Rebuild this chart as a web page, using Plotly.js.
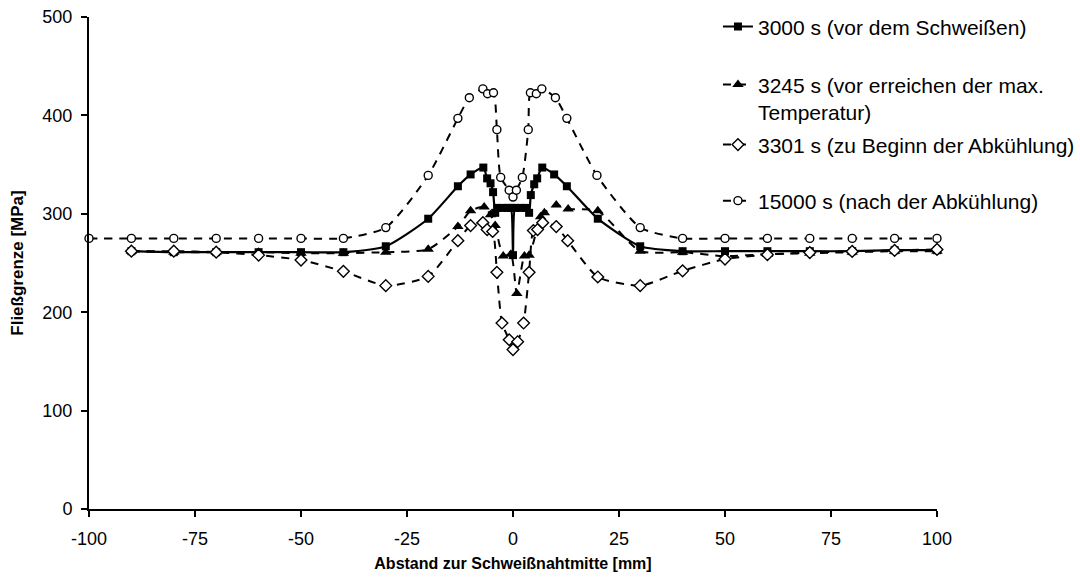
<!DOCTYPE html>
<html>
<head>
<meta charset="utf-8">
<script src="https://cdn.plot.ly/plotly-3.0.1.min.js"></script>
<style>html,body{margin:0;padding:0;background:#fff;}#chart{width:1080px;height:584px;}</style>
</head>
<body>
<div id="chart"></div>
<script>
// ---- data ----
var seriesNames = [
  "3000 s (vor dem Schweißen)",
  "3245 s (vor erreichen der max.<br>Temperatur)",
  "3301 s (zu Beginn der Abkühlung)",
  "15000 s (nach der Abkühlung)"
];

var x3000 = [-90,-80,-70,-60,-50,-40,-30,-20,-13,-10,-7,-6.1,-5.3,-4.7,-4.2,-3.7,-2.5,-1.3,-0.5,0,0.5,1.8,3,3.8,4.2,5,5.7,6.9,9.7,12.7,20,30,40,50,60,70,80,90,100];
var y3000 = [262,261,261,261,261,261,267,295,328,340,347,336,331,322,301,306,306,306,306,258,306,306,306,301,319,330,336,347,340,328,295,267,262,262,262,262,262,263,263];

var x3245 = [-90,-80,-70,-60,-50,-40,-30,-20,-13,-10,-6.8,-5.3,-4.2,-2.3,-0.5,0.9,2.7,3.8,6.5,7.4,10.2,13,20,30,40,50,60,70,80,90,100];
var y3245 = [262,261,261,261,260,260,261,264,287,303,307,299,288,257,259,219,257,258,297,301,309,305,303,262,261,257,259,260,261,262,262];

var x3301 = [-90,-80,-70,-60,-50,-40,-30,-20,-13,-10,-7.1,-6.1,-4.8,-3.8,-2.6,-0.9,0,1.1,2.5,3.8,4.8,5.8,7,10.2,12.9,20,30,40,50,60,70,80,90,100];
var y3301 = [262,262,261,258,253,241.5,227,236.4,272.7,288,291,284,282,240.5,189,172,162,170,189,240.5,283,284,291,287,272.7,235.8,227,242,254,258.5,260.6,261.8,262.8,263.8];

var x15000 = [-100,-90,-80,-70,-60,-50,-40,-30,-20,-13,-10.3,-7.1,-6,-4.6,-3.8,-2.9,-0.9,0,0.8,2.2,3.6,4.1,5.5,6.8,10,12.7,19.8,30,40,50,60,70,80,90,100];
var y15000 = [275,275,275,275,275,275,275,286,339,397,418,427,422,423,385.5,337,324,317,324,337,385.5,423,422,427,418,397,339,286,275,275,275,275,275,275,275];

var xTicks = [-100,-75,-50,-25,0,25,50,75,100];
var yTicks = [0,100,200,300,400,500];

// ---- styling ----
var FONT = "Liberation Sans, Arial, sans-serif";
var dashPat = "8px,7px";

var traces = [
  {x: x3000, y: y3000, name: seriesNames[0], legend: "legend",
   mode: "lines+markers", line: {color: "#000", width: 2.2, shape: "spline", smoothing: 0.6},
   marker: {symbol: "square", size: 8, color: "#000"}},
  {x: x3245, y: y3245, name: seriesNames[1], legend: "legend2",
   mode: "lines+markers", line: {color: "#000", width: 2, dash: dashPat, shape: "spline", smoothing: 0.6},
   marker: {symbol: "triangle-up", size: 10, color: "#000"}},
  {x: x3301, y: y3301, name: seriesNames[2], legend: "legend3",
   mode: "lines+markers", line: {color: "#000", width: 2, dash: dashPat, shape: "spline", smoothing: 0.6},
   marker: {symbol: "diamond", size: 9, color: "#fff", line: {color: "#000", width: 1.4}}},
  {x: x15000, y: y15000, name: seriesNames[3], legend: "legend4",
   mode: "lines+markers", line: {color: "#000", width: 2, dash: dashPat, shape: "spline", smoothing: 0.6},
   marker: {symbol: "circle", size: 8, color: "#fff", line: {color: "#000", width: 1.4}}}
];
traces.forEach(function(t){ t.cliponaxis = false; t.hoverinfo = "skip"; });

function leg(y, anchor) {
  return {x: 0.7417, xanchor: "left", y: y, yanchor: anchor,
          bgcolor: "rgba(0,0,0,0)", borderwidth: 0, valign: "top",
          font: {family: FONT, size: 21, color: "#000"}};
}

var layout = {
  width: 1080, height: 584,
  margin: {l: 89, r: 143, t: 17, b: 75, pad: 0, autoexpand: false},
  paper_bgcolor: "#fff", plot_bgcolor: "#fff",
  font: {family: FONT, color: "#000"},
  showlegend: true,
  legend: leg(0.980, "middle"),
  legend2: leg(0.904, "top"),
  legend3: leg(0.740, "middle"),
  legend4: leg(0.626, "middle"),
  xaxis: {
    range: [-100, 100], tickvals: xTicks, ticktext: xTicks.map(String),
    showline: true, linecolor: "#000", linewidth: 2, mirror: false,
    ticks: "outside", ticklen: 6, tickwidth: 2, tickcolor: "#000",
    ticklabelstandoff: 6,
    showgrid: false, zeroline: false,
    tickfont: {family: FONT, size: 18, color: "#000"},
    title: {text: "Abstand zur Schweißnahtmitte [mm]", standoff: 10,
            font: {family: FONT, size: 16, color: "#000", weight: "bold"}}
  },
  yaxis: {
    range: [0, 500], tickvals: yTicks, ticktext: yTicks.map(String),
    showline: true, linecolor: "#000", linewidth: 2, mirror: false,
    ticks: "outside", ticklen: 6, tickwidth: 2, tickcolor: "#000",
    ticklabelstandoff: 5,
    showgrid: false, zeroline: false,
    tickfont: {family: FONT, size: 18, color: "#000"},
    title: {text: "Fließgrenze [MPa]", standoff: 14,
            font: {family: FONT, size: 17, color: "#000", weight: "bold"}}
  }
};

Plotly.newPlot("chart", traces, layout, {staticPlot: true, displayModeBar: false});
</script>
</body>
</html>
